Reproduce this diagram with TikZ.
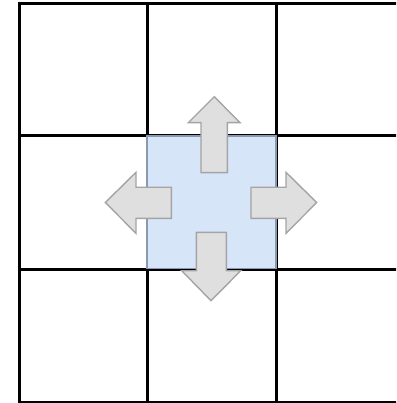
\documentclass[tikz,border=0pt]{standalone}
\usetikzlibrary{positioning}
\usepackage{xcolor}
\definecolor{cellblue}{HTML}{D7E5F8}
\definecolor{celledge}{HTML}{8A98B0}
\definecolor{arrowgray}{HTML}{DFDFDF}
\definecolor{arrowedge}{HTML}{A4A4A4}

\begin{document}
\begin{tikzpicture}[x=0.25mm, y=-0.25mm,
        gridline/.style={line width=0.75mm, black},
        movearrow/.style={fill=arrowgray, draw=arrowedge, line width=0.35mm, line join=miter}]
    \useasboundingbox (0,0) rectangle (396,403);
    \clip (0,0) rectangle (396,403);

    % Grid
    \draw[gridline] (19,4) rectangle (404,402);
    \foreach \x in {147,276} \draw[gridline] (\x,4) -- (\x,402);
    \foreach \y in {136,269} \draw[gridline] (19,\y) -- (404,\y);

    % Centre cell
    \draw[fill=cellblue, draw=celledge, line width=0.35mm] (147,136) rectangle (276,268.5);

    % Arrows
    \draw[movearrow] (201,172.7) -- (201,122.7) -- (188.3,122.7) -- (214.3,96.7)
        -- (240,122.7) -- (227.3,122.7) -- (227.3,172.7) -- cycle;
    \draw[movearrow] (171.3,187.3) -- (136,187.3) -- (136,172.3) -- (105.3,202.5)
        -- (136,233.3) -- (136,218.3) -- (171.3,218.3) -- cycle;
    \draw[movearrow] (251,187.3) -- (286,187.3) -- (286,172.3) -- (316.7,202.5)
        -- (286,233.3) -- (286,218.3) -- (251,218.3) -- cycle;
    \draw[movearrow] (196.3,232.3) -- (226.3,232.3) -- (226.3,270.7) -- (240.7,270.7)
        -- (211,300.7) -- (181.7,270.7) -- (196.3,270.7) -- cycle;
\end{tikzpicture}
\end{document}
